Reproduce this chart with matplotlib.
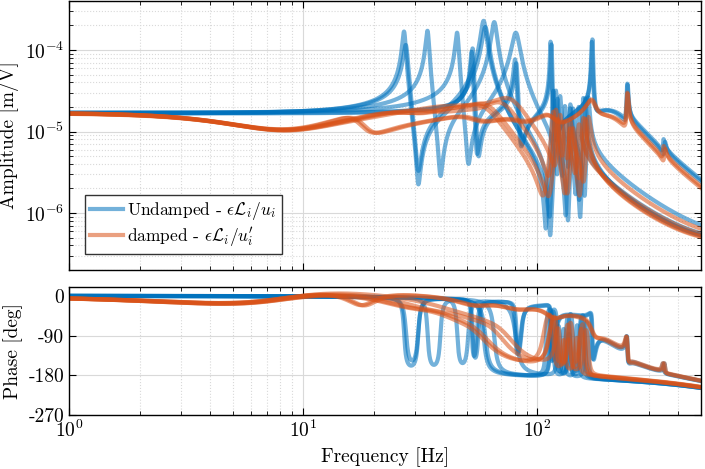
import numpy as np
import matplotlib
matplotlib.use("Agg")
import matplotlib.pyplot as plt
from matplotlib.ticker import NullFormatter, FixedLocator, FixedFormatter

plt.rcParams['font.family'] = 'cmr10'
plt.rcParams['mathtext.fontset'] = 'cm'
plt.rcParams['axes.unicode_minus'] = False
plt.rcParams['axes.formatter.use_mathtext'] = True

col_ol = '#0072BD'
col_iff = '#D95319'

freqs = np.logspace(0, np.log10(500), 5000)
delay = 0.15e-3  # [s] measurement delay

# Undamped plant, one entry per leg:
# mode frequencies [Hz], residues [1e-5 m/V], modal damping [-]
ol_freq = [
    [27.0, 60.0, 117, 138, 160, 1000],
    [27.5, 59.0, 122, 142, 157, 1000],
    [34.0, 65.5, 120, 131, 150, 1000],
    [45.5, 81.0, 125, 138, 165, 1000],
    [53.0, 81.5, 114, 172, 210, 242, 345],
    [52.5, 80.5, 115, 171, 205, 243, 350],
]
ol_res = [
    [0.50, 1.07, 0.05, 0.03, 0.04, -0.02],
    [0.45, 1.14, 0.04, 0.03, 0.04, -0.02],
    [0.51, 1.10, 0.05, 0.03, 0.03, -0.02],
    [0.48, 1.14, 0.04, 0.03, 0.04, -0.02],
    [0.20, 0.15, 0.12, 0.12, 1.06, 0.03, 0.004],
    [0.18, 0.17, 0.11, 0.11, 1.06, 0.03, 0.004],
]
ol_damp = [
    [0.015, 0.028, 0.008, 0.008, 0.008, 0.05],
    [0.02, 0.025, 0.008, 0.008, 0.008, 0.05],
    [0.015, 0.025, 0.008, 0.008, 0.008, 0.05],
    [0.015, 0.035, 0.008, 0.008, 0.008, 0.05],
    [0.01, 0.012, 0.005, 0.005, 0.3, 0.006, 0.008],
    [0.01, 0.012, 0.005, 0.005, 0.3, 0.006, 0.008],
]

# Damped plant (same legs)
iff_freq = [
    [27.0, 45.0, 58.0, 117, 138, 160, 1000],
    [28.0, 47.0, 60.0, 122, 142, 157, 1000],
    [34.0, 52.0, 70.0, 120, 131, 150, 1000],
    [45.0, 60.0, 76.0, 125, 138, 165, 1000],
    [17.0, 53.0, 81.0, 114, 172, 210, 242, 345],
    [17.5, 52.0, 80.0, 115, 171, 205, 243, 350],
]
iff_res = [
    [0.40, 0.55, 0.65, 0.05, 0.03, 0.04, -0.02],
    [0.40, 0.50, 0.70, 0.04, 0.03, 0.04, -0.02],
    [0.45, 0.45, 0.70, 0.05, 0.03, 0.03, -0.02],
    [0.40, 0.45, 0.75, 0.04, 0.03, 0.04, -0.02],
    [0.29, 0.15, 0.14, 0.11, 0.11, 0.86, 0.03, 0.004],
    [0.29, 0.15, 0.14, 0.10, 0.10, 0.86, 0.03, 0.004],
]
iff_damp = [
    [0.35, 0.3, 0.2, 0.015, 0.015, 0.015, 0.05],
    [0.35, 0.3, 0.2, 0.015, 0.015, 0.015, 0.05],
    [0.35, 0.3, 0.18, 0.015, 0.015, 0.015, 0.05],
    [0.35, 0.3, 0.18, 0.015, 0.015, 0.015, 0.05],
    [0.17, 0.2, 0.2, 0.1, 0.05, 0.3, 0.008, 0.01],
    [0.17, 0.2, 0.2, 0.1, 0.05, 0.3, 0.008, 0.01],
]
# low frequency notch added by the damping loop: [f0 Hz, zeta num, zeta den]
iff_notch = [8.5, 0.6, 1.0]


def frf(fk, rk, zk):
    G = np.zeros_like(freqs, dtype=complex)
    for f0, r, z in zip(fk, rk, zk):
        x = freqs / f0
        G += r * 1e-5 / (1 - x**2 + 2j * z * x)
    return G * np.exp(-2j * np.pi * freqs * delay)


fig = plt.figure(figsize=(7.05, 4.69), dpi=100)
ax1 = fig.add_axes([0.0979, 0.4243, 0.8964, 0.5737])
ax2 = fig.add_axes([0.0979, 0.1151, 0.8964, 0.2729], sharex=ax1)

xn = freqs / iff_notch[0]
notch = (1 - xn**2 + 2j * iff_notch[1] * xn) / (1 - xn**2 + 2j * iff_notch[2] * xn)

for i in range(len(ol_freq)):
    G = frf(ol_freq[i], ol_res[i], ol_damp[i])
    lbl = r'Undamped - $\epsilon\mathcal{L}_i/u_i$' if i == 0 else None
    ax1.plot(freqs, np.abs(G), color=col_ol, alpha=0.55, lw=3, label=lbl)
    ax2.plot(freqs, 180 / np.pi * np.unwrap(np.angle(G)), color=col_ol, alpha=0.55, lw=3)

for i in range(len(iff_freq)):
    G = frf(iff_freq[i], iff_res[i], iff_damp[i]) * notch
    lbl = r'damped - $\epsilon\mathcal{L}_i/u_i^\prime$' if i == 0 else None
    ax1.plot(freqs, np.abs(G), color=col_iff, alpha=0.55, lw=3, label=lbl)
    ax2.plot(freqs, 180 / np.pi * np.unwrap(np.angle(G)), color=col_iff, alpha=0.55, lw=3)

for ax in (ax1, ax2):
    ax.set_xscale('log')
    ax.grid(True, which='major', color='#d9d9d9', lw=0.8, ls='-')
    ax.grid(True, which='minor', color='#d9d9d9', lw=0.8, ls=':')
    ax.tick_params(which='both', direction='in', top=True, right=True, labelsize=14)
    ax.tick_params(which='major', length=5)
    ax.tick_params(which='minor', length=3)
    for s in ax.spines.values():
        s.set_linewidth(1.0)

ax1.set_yscale('log')
ax1.set_ylim(2e-7, 4e-4)
ax1.set_xlim(1, 500)
ax1.set_ylabel('Amplitude [m/V]', fontsize=14)
ax1.tick_params(labelbottom=False)
ax1.yaxis.set_minor_formatter(NullFormatter())

ax2.set_ylim(-270, 20)
ax2.yaxis.set_major_locator(FixedLocator([0, -90, -180, -270]))
ax2.yaxis.set_major_formatter(FixedFormatter(['0', '-90', '-180', '-270']))
ax2.set_ylabel('Phase [deg]', fontsize=14)
ax2.set_xlabel('Frequency [Hz]', fontsize=14)
ax2.xaxis.set_minor_formatter(NullFormatter())

leg = ax1.legend(loc='lower left', bbox_to_anchor=(0.025, 0.06), borderaxespad=0,
                 fontsize=12.5, fancybox=False, edgecolor='#333333', framealpha=1,
                 handlelength=1.9, handletextpad=0.25, borderpad=0.3, labelspacing=0.15)
leg.get_frame().set_linewidth(1.0)

fig.align_ylabels([ax1, ax2])
fig.savefig('out.png', dpi=100)
